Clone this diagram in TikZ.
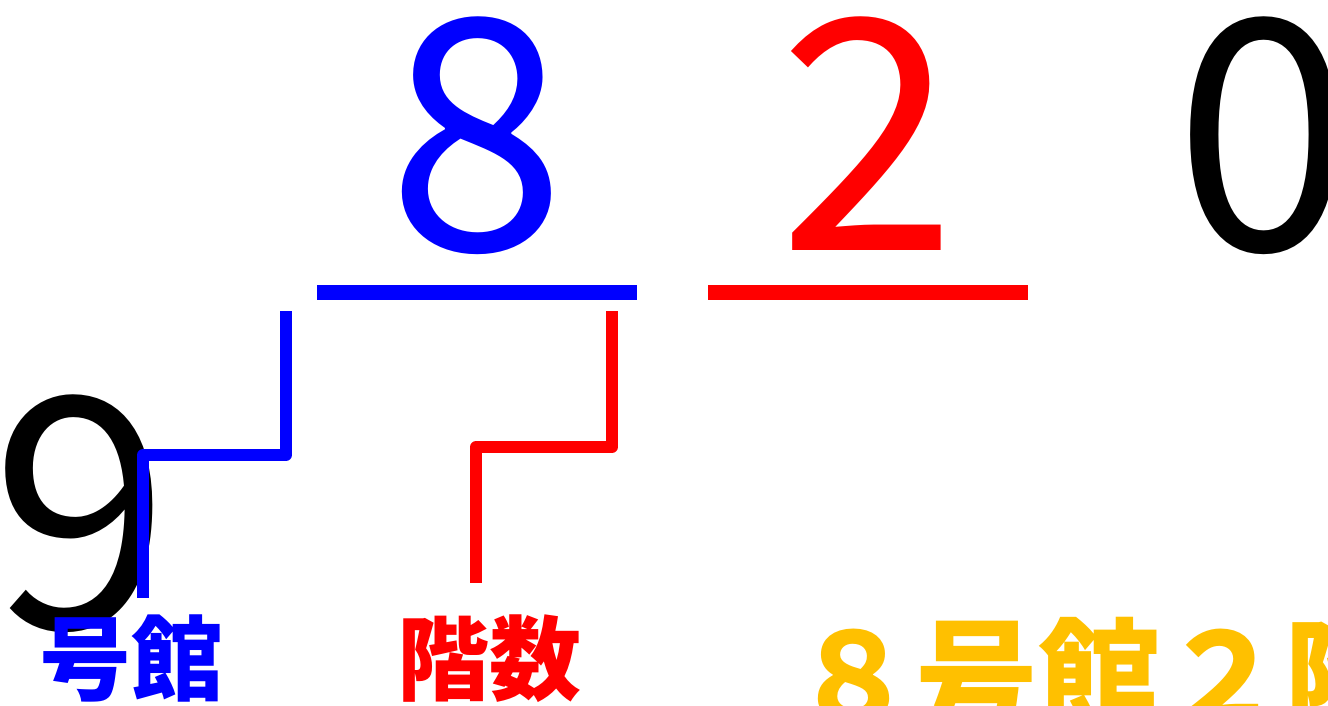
\documentclass[tikz,border=0pt]{standalone}
\usepackage{fontspec}
\setmainfont{Liberation Sans}
\newfontfamily\cjk{Noto Sans CJK JP}
\definecolor{roomyellow}{RGB}{255,192,0}
\tikzstyle{digit} = [inner sep=0pt, anchor=base, font=\cjk\fontsize{322}{330}\selectfont]
\tikzstyle{kanji} = [inner sep=0pt, anchor=base west, font=\cjk\bfseries\fontsize{92}{96}\selectfont]
\tikzstyle{bar} = [line width=15pt]
\tikzstyle{bracket} = [line width=12pt, line join=round]

\begin{document}
\begin{tikzpicture}[x=1pt,y=-1pt]
	\useasboundingbox (0,0) rectangle (1328,705);
	\clip (0,0) rectangle (1328,705);
	% The room number, one digit at a time
	\node [digit] (d9) at (81,628) {9};
	\node [digit, text=blue] (d8) at (477,250) {8};
	\node [digit, text=red] (d2) at (868,250) {2};
	\node [digit] (d0) at (1264,250) {0};
	% Underlines below the building and floor digits
	\draw [bar, blue] ([xshift=-160pt,yshift=-42pt]d8.base) -- ++(320,0);
	\draw [bar, red] ([xshift=-160pt,yshift=-42pt]d2.base) -- ++(320,0);
	% Brackets that lead down to the labels
	\coordinate (bTop) at (286,311);
	\coordinate (bKnee) at (143,455);
	\coordinate (bEnd) at (143,598);
	\coordinate (rTop) at (612,311);
	\coordinate (rKnee) at (476,447);
	\coordinate (rEnd) at (476,583);
	\draw [bracket, blue] (bTop) |- (bKnee) -- (bEnd);
	\draw [bracket, red] (rTop) |- (rKnee) -- (rEnd);
	% Labels
	\node [kanji, text=blue] (building) at (39,693) {号館};
	\node [kanji, text=red] (floor) at (397,693) {階数};
	\node [kanji, text=roomyellow, font=\cjk\bfseries\fontsize{123}{128}\selectfont] (room) at (792,722) {８号館２階};
\end{tikzpicture}
\end{document}
